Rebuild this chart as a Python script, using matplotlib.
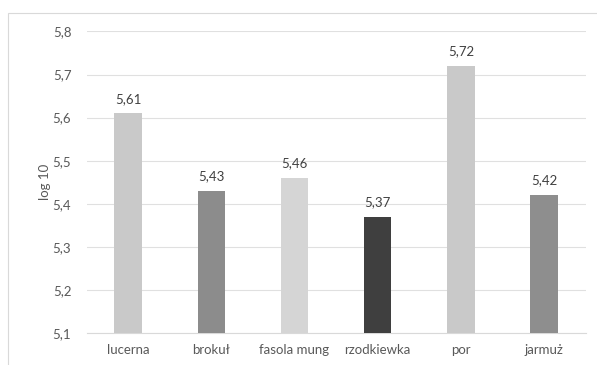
import matplotlib.pyplot as plt
from matplotlib.patches import Rectangle
from matplotlib.ticker import FuncFormatter

# wartości log10 dla poszczególnych kiełków
kategorie = ["lucerna", "brokuł", "fasola mung", "rzodkiewka", "por", "jarmuż"]
wartosci = [5.61, 5.43, 5.46, 5.37, 5.72, 5.42]
kolory = ["#c9c9c9", "#8c8c8c", "#d5d5d5", "#3f3f3f", "#c9c9c9", "#8e8e8e"]
yticks = [5.1, 5.2, 5.3, 5.4, 5.5, 5.6, 5.7, 5.8]

plt.rcParams["font.family"] = ["Lato", "DejaVu Sans"]
szary = "#595959"
rozmiar = 9.5

fig = plt.figure(figsize=(5.97, 3.65), dpi=100)
ax = fig.add_axes([0.145, 0.0877, 0.836, 0.826])

# ramka wykresu
fig.patches.append(Rectangle((8 / 597, -0.1), 1.2, 1 - 13 / 365 + 0.1,
                             transform=fig.transFigure, fill=False,
                             edgecolor="#d9d9d9", linewidth=0.8))

x = range(len(kategorie))
ax.bar(x, wartosci, width=0.33, color=kolory, bottom=0, zorder=3)

for xi, v in zip(x, wartosci):
    ax.text(xi, v + 0.02, f"{v:.2f}".replace(".", ","), ha="center",
            va="bottom", fontsize=rozmiar, color="#404040")

ax.set_ylim(5.1, 5.8)
ax.set_xlim(-0.5, len(kategorie) - 0.5)
ax.set_yticks(yticks)
ax.yaxis.set_major_formatter(FuncFormatter(lambda v, p: f"{v:.1f}".replace(".", ",")))
ax.set_xticks(list(x))
ax.set_xticklabels(kategorie)
ax.tick_params(axis="both", length=0, labelsize=rozmiar, colors=szary)
ax.tick_params(axis="y", pad=11)
ax.tick_params(axis="x", pad=8)
ax.set_ylabel("log 10", fontsize=rozmiar, color=szary, labelpad=1)

ax.grid(axis="y", color="#e0e0e0", linewidth=0.8, zorder=0)
for s in ["top", "right", "left"]:
    ax.spines[s].set_visible(False)
ax.spines["bottom"].set_color("#d9d9d9")
ax.spines["bottom"].set_linewidth(0.8)

fig.savefig("out.png", dpi=100)
